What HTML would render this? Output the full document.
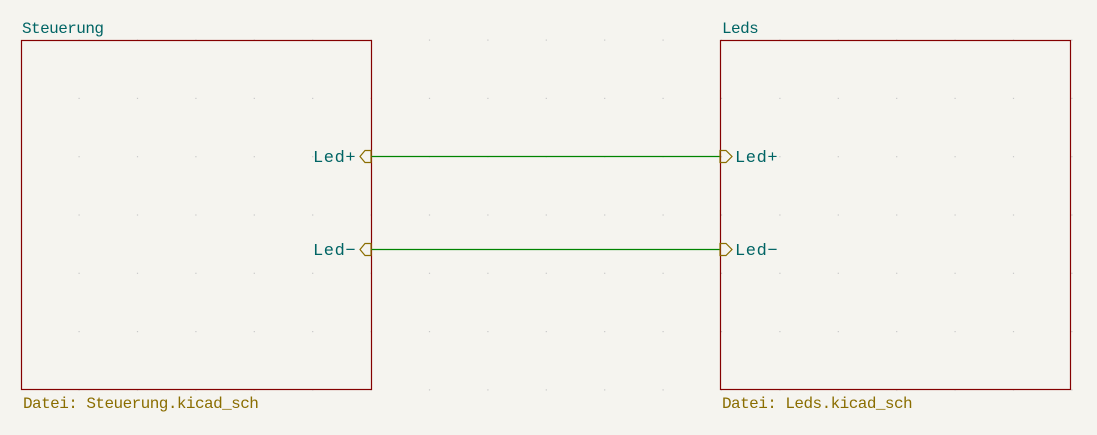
<!DOCTYPE html>
<html><head><style>
body{margin:0;background:#f5f4ef;}
svg{display:block}
text{font-family:"Liberation Mono",monospace;font-size:16px;}
.t{letter-spacing:-0.55px}
.p{font-size:17px;letter-spacing:0.6px}
</style></head><body>
<svg width="1097" height="435" viewBox="0 0 1097 435">
<rect width="1097" height="435" fill="#f5f4ef"/>
<g fill="#c8c8c8" id="dots"></g>
<rect x="21.5" y="40.5" width="350" height="349" fill="none" stroke="#840000" stroke-width="1.2"/>
<rect x="720.5" y="40.5" width="350" height="349" fill="none" stroke="#840000" stroke-width="1.2"/>
<text x="22" y="33" fill="#006464" class="t">Steuerung</text>
<text x="722" y="33" fill="#006464" class="t">Leds</text>
<text x="23" y="408" fill="#8a6d00" class="t">Datei: Steuerung.kicad_sch</text>
<text x="722" y="408" fill="#8a6d00" class="t">Datei: Leds.kicad_sch</text>
<line x1="371" y1="156.5" x2="720" y2="156.5" stroke="#008400" stroke-width="1.2"/>
<line x1="371" y1="249.5" x2="720" y2="249.5" stroke="#008400" stroke-width="1.2"/>
<g fill="none" stroke="#8a6d00" stroke-width="1.2">
<polygon points="371,150.5 365,150.5 360,156.5 365,162.5 371,162.5"/>
<polygon points="371,243.5 365,243.5 360,249.5 365,255.5 371,255.5"/>
<polygon points="720,150.5 726,150.5 732,156.5 726,162.5 720,162.5"/>
<polygon points="720,243.5 726,243.5 732,249.5 726,255.5 720,255.5"/>
</g>
<text x="313" y="162" fill="#006464" class="p">Led+</text>
<text x="313" y="255" fill="#006464" class="p">Led−</text>
<text x="735" y="162" fill="#006464" class="p">Led+</text>
<text x="735" y="255" fill="#006464" class="p">Led−</text>
</svg>
<script>
var g=document.getElementById('dots'),s='';
for(var i=0;i<18;i++)for(var j=0;j<7;j++){var x=79+i*58.4,y=40+j*58.3;
s+='<rect x="'+(x-0.5).toFixed(1)+'" y="'+(y-0.5).toFixed(1)+'" width="1.2" height="1.2"/>';}
g.innerHTML=s;
</script>
</body></html>
